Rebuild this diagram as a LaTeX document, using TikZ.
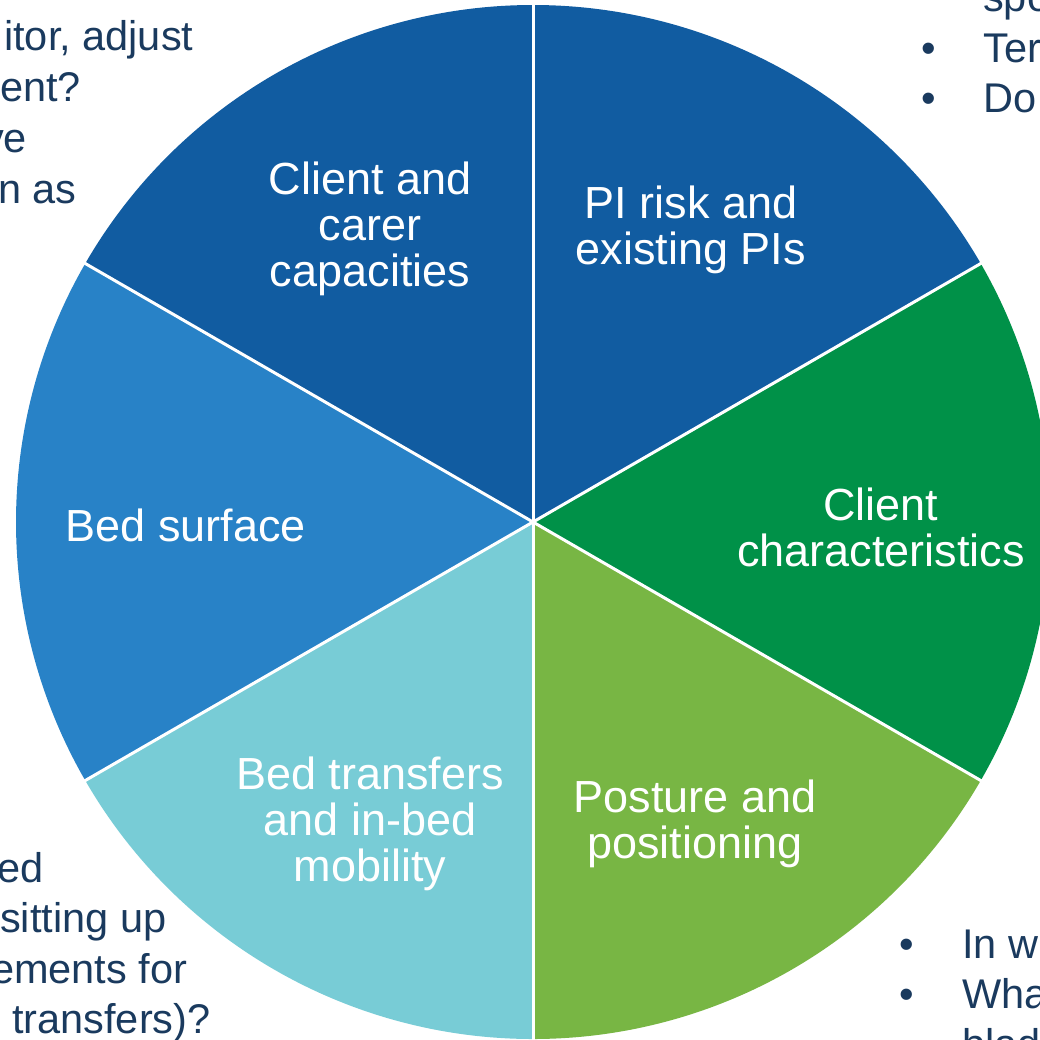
\documentclass[tikz,border=0pt]{standalone}
\usepackage{fontspec}
\setmainfont{Liberation Sans}
\definecolor{darkblue}{RGB}{17,92,161}
\definecolor{midblue}{RGB}{40,130,199}
\definecolor{green1}{RGB}{0,145,72}
\definecolor{green2}{RGB}{120,182,68}
\definecolor{teal1}{RGB}{120,204,214}
\definecolor{navy}{RGB}{26,58,94}
\begin{document}
\begin{tikzpicture}[x=1pt,y=1pt,
  seglabel/.style={text=white,align=center,inner sep=0pt,font=\fontsize{45}{46}\selectfont},
  sidetext/.style={text=navy,inner sep=0pt,anchor=base west,font=\fontsize{41.5}{51}\selectfont},
  sep/.style={draw=white,line width=3pt}]
\useasboundingbox (0,0) rectangle (1040,-1039);
\clip (0,0) rectangle (1040,-1039);
\coordinate (C) at (533,-522);
\def\R{517}
\fill[darkblue] (C) -- ++(90:\R) arc (90:150:\R) -- cycle;
\fill[darkblue] (C) -- ++(30:\R) arc (30:90:\R) -- cycle;
\fill[green1] (C) -- ++(-30:\R) arc (-30:30:\R) -- cycle;
\fill[green2] (C) -- ++(-90:\R) arc (-90:-30:\R) -- cycle;
\fill[teal1] (C) -- ++(-150:\R) arc (-150:-90:\R) -- cycle;
\fill[midblue] (C) -- ++(150:\R) arc (150:210:\R) -- cycle;
\foreach \a in {30,90,150,210,270,330}
  \draw[sep] (C) -- ++(\a:\R+5);
% labels
\node[seglabel] (l1) at (370,-229) {Client and\\carer\\capacities};
\node[seglabel] (l2) at (691,-230) {PI risk and\\existing PIs};
\node[seglabel] (l3) at (881,-527) {Client\\characteristics};
\node[seglabel] (l4) at (695,-824) {Posture and\\positioning};
\node[seglabel] (l5) at (370,-824) {Bed transfers\\and in-bed\\mobility};
\node[seglabel] (l6) at (186,-525) {Bed surface};
% side text top-left
\node[sidetext] (t1) at (4,-50) {itor, adjust};
\node[sidetext] (t2) at (0,-101) {ent?};
\node[sidetext] (t3) at (-17,-152) {ve};
\node[sidetext] (t4) at (-2,-203) {n as};
% bottom-left
\node[sidetext] (b1) at (-3,-882) {ed};
\node[sidetext] (b2) at (0,-932) {sitting up};
\node[sidetext] (b3) at (-9,-983) {ements for};
\node[sidetext] (b4) at (12,-1033) {transfers)?};
% top-right
\node[sidetext] (r0) at (983,-11) {spo};
\node[sidetext] (r1b) at (921,-62) {•};
\node[sidetext] (r1) at (983,-62) {Ter};
\node[sidetext] (r2b) at (921,-112) {•};
\node[sidetext] (r2) at (983,-112) {Do};
% bottom-right
\node[sidetext] (s1b) at (899,-958) {•};
\node[sidetext] (s1) at (962,-958) {In w};
\node[sidetext] (s2b) at (899,-1008) {•};
\node[sidetext] (s2) at (962,-1008) {Wha};
\node[sidetext] (s3) at (962,-1058) {blad};
\end{tikzpicture}
\end{document}
